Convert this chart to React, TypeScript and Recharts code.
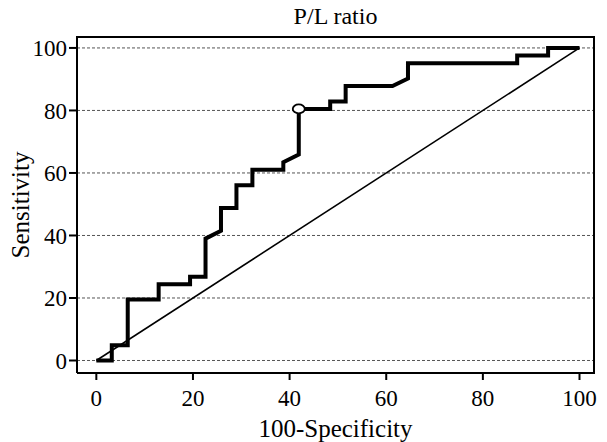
import React from 'react';
import { LineChart, Line, XAxis, YAxis, CartesianGrid, ReferenceDot } from 'recharts';

// ROC curve for P/L ratio
const fpr = [0, 3.2, 3.2, 6.5, 6.5, 12.9, 12.9, 19.4, 19.4, 22.6, 22.6, 25.8, 25.8, 29.0, 29.0, 32.3, 32.3, 38.7, 38.7, 41.9, 41.9, 48.4, 48.4, 51.6, 51.6, 61.3, 64.5, 64.5, 87.1, 87.1, 93.5, 93.5, 100];
const tpr = [0, 0, 4.9, 4.9, 19.5, 19.5, 24.4, 24.4, 26.8, 26.8, 39.0, 41.5, 48.8, 48.8, 56.1, 56.1, 61.0, 61.0, 63.4, 65.9, 80.5, 80.5, 82.9, 82.9, 87.8, 87.8, 90.2, 95.1, 95.1, 97.6, 97.6, 100, 100];

// chance line
const diagX = [0, 100];
const diagY = [0, 100];

// optimal cut-off point (open marker)
const cutoff = { x: 41.9, y: 80.5 };

const xTicks = [0, 20, 40, 60, 80, 100];
const yTicks = [0, 20, 40, 60, 80, 100];

const rocData = fpr.map((x, i) => ({ x, y: tpr[i] }));
const diagData = diagX.map((x, i) => ({ x, y: diagY[i] }));

const FONT = 'Liberation Serif';
const axisLine = { stroke: '#000', strokeWidth: 2 };
const tickLine = { stroke: '#000', strokeWidth: 2 };
const tickStyle = { fontSize: 23, fill: '#000', fontFamily: FONT, style: { fontFamily: FONT } };

const CutoffMarker = (props: any) => (
  <ellipse cx={props.cx} cy={props.cy} rx={6} ry={4.5} fill="#fff" stroke="#000" strokeWidth={1.8} />
);

export default function App() {
  return (
    <div style={{ position: 'absolute', left: 0, top: 0, width: 607, height: 442, background: '#fff', fontFamily: FONT }}>
      <div
        style={{
          position: 'absolute',
          left: 0,
          width: 671,
          top: 1,
          textAlign: 'center',
          fontSize: 24,
          lineHeight: '30px',
          color: '#000',
          fontFamily: FONT,
        }}
      >
        P/L ratio
      </div>
      <LineChart
        width={607}
        height={442}
        margin={{ top: 37, right: 13, bottom: 0, left: 0 }}
        style={{ fontFamily: FONT }}
      >
        <CartesianGrid vertical={false} horizontalValues={yTicks} stroke="#555" strokeDasharray="3 2" strokeWidth={1} />
        <XAxis
          dataKey="x"
          type="number"
          domain={[-4, 103]}
          ticks={xTicks}
          height={69}
          tickSize={7}
          tickMargin={10}
          axisLine={axisLine}
          tickLine={tickLine}
          tick={tickStyle}
          label={{
            value: '100-Specificity',
            position: 'insideBottom',
            offset: 5,
            fontSize: 25,
            fill: '#000',
            fontFamily: FONT,
            style: { fontFamily: FONT },
          }}
        />
        <YAxis
          type="number"
          domain={[-4, 103.5]}
          ticks={yTicks}
          width={77}
          tickSize={8}
          tickMargin={2}
          axisLine={axisLine}
          tickLine={tickLine}
          tick={tickStyle}
          label={{
            value: 'Sensitivity',
            angle: -90,
            position: 'insideLeft',
            offset: 20,
            style: { textAnchor: 'middle', fontFamily: FONT },
            fontSize: 25,
            fill: '#000',
            fontFamily: FONT,
          }}
        />
        <Line
          data={diagData}
          dataKey="y"
          type="linear"
          stroke="#000"
          strokeWidth={1.6}
          dot={false}
          activeDot={false}
          isAnimationActive={false}
        />
        <Line
          data={rocData}
          dataKey="y"
          type="linear"
          stroke="#000"
          strokeWidth={4}
          strokeLinejoin="miter"
          dot={false}
          activeDot={false}
          isAnimationActive={false}
        />
        <ReferenceDot x={cutoff.x} y={cutoff.y} shape={CutoffMarker} />
      </LineChart>
      {/* plot frame: top and right edges */}
      <div
        style={{
          position: 'absolute',
          left: 76,
          top: 36,
          width: 517,
          height: 336,
          borderTop: '2px solid #000',
          borderRight: '2px solid #000',
          pointerEvents: 'none',
        }}
      />
    </div>
  );
}
